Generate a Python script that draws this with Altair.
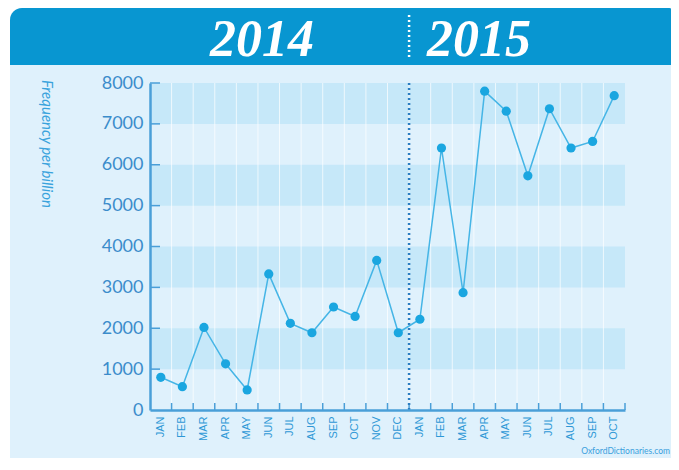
import altair as alt
import pandas as pd

# ---- data ----
months_2014 = ["JAN", "FEB", "MAR", "APR", "MAY", "JUN", "JUL", "AUG", "SEP", "OCT", "NOV", "DEC"]
months_2015 = ["JAN", "FEB", "MAR", "APR", "MAY", "JUN", "JUL", "AUG", "SEP", "OCT"]
values_2014 = [800, 570, 2020, 1130, 490, 3330, 2120, 1890, 2520, 2290, 3660, 1890]
values_2015 = [2220, 6410, 2870, 7800, 7310, 5730, 7370, 6410, 6570, 7690]
year_labels = ["2014", "2015"]
y_ticks = [0, 1000, 2000, 3000, 4000, 5000, 6000, 7000, 8000]
stripe_lo = [1000, 3000, 5000, 7000]
stripe_hi = [2000, 4000, 6000, 8000]
y_title = "Frequency per billion"
credit = "OxfordDictionaries.com"

keys = [m + " 2014" for m in months_2014] + [m + " 2015" for m in months_2015]
df = pd.DataFrame({"key": keys, "value": values_2014 + values_2015})
stripes = pd.DataFrame({"lo": stripe_lo, "hi": stripe_hi})
yt = pd.DataFrame({"v": y_ticks[1:]})
divider = pd.DataFrame({"key": ["DEC 2014"]})

W, H = 475, 327
AX = "#4a9fd8"
CARD = "#dff1fc"
HEAD = "#0896d1"

xsc = alt.Scale(type="band", domain=keys, paddingInner=0, paddingOuter=0)
ysc = alt.Scale(domain=[0, 8000], nice=False)

one = lambda: pd.DataFrame({"a": [0]})

card = alt.Chart(one()).mark_rect(color=CARD, cornerRadius=12).encode(
    x=alt.value(-140), x2=alt.value(530), y=alt.value(-75), y2=alt.value(400))
header = alt.Chart(one()).mark_rect(color=HEAD, cornerRadiusTopLeft=12, cornerRadiusTopRight=12).encode(
    x=alt.value(-140), x2=alt.value(530), y=alt.value(-75), y2=alt.value(-18))
t2014 = alt.Chart(one()).mark_text(font="Liberation Serif", fontStyle="italic", fontWeight="bold",
                                   fontSize=52, color="white", align="center", baseline="alphabetic").encode(
    x=alt.value(112), y=alt.value(-27), text=alt.value(year_labels[0]))
t2015 = alt.Chart(one()).mark_text(font="Liberation Serif", fontStyle="italic", fontWeight="bold",
                                   fontSize=52, color="white", align="center", baseline="alphabetic").encode(
    x=alt.value(329), y=alt.value(-27), text=alt.value(year_labels[1]))
head_dots = alt.Chart(divider).mark_rule(color="white", strokeWidth=2.5, strokeDash=[2, 3]).encode(
    x=alt.X("key:N", scale=xsc, bandPosition=1), y=alt.value(-68), y2=alt.value(-25))

stripe_layer = alt.Chart(stripes).mark_rect(color="#c6e8f9").encode(
    x=alt.value(0), x2=alt.value(W),
    y=alt.Y("lo:Q", scale=ysc,
            axis=alt.Axis(values=y_ticks, format="d", title=None, grid=False, ticks=False, labelFont="Lato",
                          labelFontSize=18, labelColor="#3b8ccb", labelPadding=7, domainColor=AX,
                          domainWidth=2.5, zindex=1)),
    y2="hi:Q")

grid = alt.Chart(df.iloc[:-1]).mark_rule(color="white", strokeWidth=1, opacity=0.7).encode(
    x=alt.X("key:N", scale=xsc, bandPosition=1), y=alt.value(0), y2=alt.value(H))
xticks = alt.Chart(df).mark_rule(color=AX, strokeWidth=1.5).encode(
    x=alt.X("key:N", scale=xsc, bandPosition=1), y=alt.value(H), y2=alt.value(H - 7))
yticks = alt.Chart(yt).mark_rule(color=AX, strokeWidth=1.5).encode(
    x=alt.value(0), x2=alt.value(10), y=alt.Y("v:Q", scale=ysc))
plot_dots = alt.Chart(divider).mark_rule(color="#2a7cc0", strokeWidth=2.5, strokeDash=[2, 3]).encode(
    x=alt.X("key:N", scale=xsc, bandPosition=1), y=alt.value(0), y2=alt.value(H))

line = alt.Chart(df).mark_line(color="#45b5e6", strokeWidth=1.5).encode(
    x=alt.X("key:N", scale=xsc, sort=keys,
            axis=alt.Axis(title=None, grid=False, ticks=False, labelAngle=270, labelFont="Liberation Sans",
                          labelFontSize=11, labelColor="#2e98d6", labelPadding=6, domainColor=AX,
                          domainWidth=2.5, labelOverlap=False, zindex=1,
                          labelExpr="split(datum.label, ' ')[0]")),
    y=alt.Y("value:Q", scale=ysc))
points = alt.Chart(df).mark_point(filled=True, color="#1aa6e0", size=85, opacity=1).encode(
    x=alt.X("key:N", scale=xsc, sort=keys), y=alt.Y("value:Q", scale=ysc))

ytitle = alt.Chart(one()).mark_text(font="Lato", fontStyle="italic", fontSize=15, color="#3aa3dc",
                                    angle=90, align="left", baseline="middle").encode(
    x=alt.value(-103), y=alt.value(-3), text=alt.value(y_title))
credit_t = alt.Chart(one()).mark_text(font="Lato", fontSize=8.5, color="#3aa0dc",
                                      align="right", baseline="middle").encode(
    x=alt.value(520), y=alt.value(368), text=alt.value(credit))

chart = alt.layer(card, header, t2014, t2015, head_dots, stripe_layer, grid, xticks, yticks,
                  plot_dots, line, points, ytitle, credit_t).properties(
    width=W, height=H,
    autosize=alt.AutoSizeParams(type="none"),
    padding={"left": 142, "top": 75, "right": 46, "bottom": 48},
    background="white",
).configure_view(stroke=None)

chart.save("out.html", embed_options={"renderer": "svg", "actions": False})
